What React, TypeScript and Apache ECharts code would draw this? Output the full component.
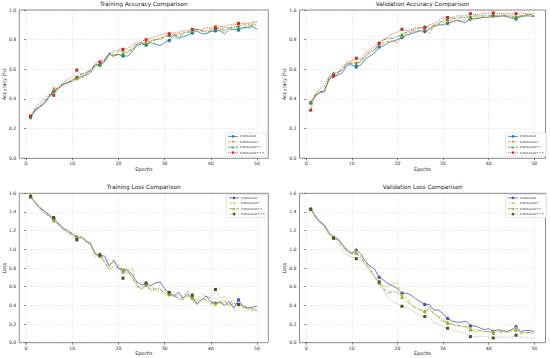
import React, { useEffect, useRef } from "react";
import * as echarts from "echarts";

const seriesNames = ["transunet", "transunet+", "transunet++", "transunet+++"];

const trainAccT = [0.28,0.32,0.345,0.37,0.41,0.45,0.47,0.50,0.51,0.52,0.545,0.55,0.56,0.58,0.63,0.63,0.65,0.70,0.69,0.70,0.69,0.69,0.72,0.76,0.77,0.765,0.78,0.77,0.76,0.78,0.795,0.83,0.81,0.82,0.83,0.845,0.86,0.84,0.84,0.855,0.86,0.86,0.84,0.87,0.87,0.865,0.88,0.88,0.89,0.87];
const trainAccP = [0.28,0.33,0.35,0.38,0.42,0.465,0.47,0.49,0.51,0.53,0.53,0.54,0.57,0.59,0.62,0.645,0.66,0.71,0.68,0.72,0.72,0.71,0.73,0.77,0.78,0.78,0.79,0.80,0.81,0.82,0.83,0.83,0.84,0.85,0.85,0.86,0.87,0.86,0.86,0.87,0.885,0.87,0.88,0.88,0.89,0.89,0.90,0.90,0.91,0.92];
const trainAccPP = [0.275,0.33,0.35,0.38,0.42,0.455,0.48,0.50,0.51,0.53,0.55,0.57,0.57,0.60,0.63,0.63,0.66,0.71,0.70,0.70,0.705,0.72,0.74,0.77,0.78,0.765,0.79,0.80,0.80,0.82,0.83,0.84,0.82,0.84,0.85,0.855,0.87,0.86,0.85,0.86,0.875,0.87,0.86,0.88,0.88,0.885,0.88,0.89,0.90,0.90];
const trainAccPPP = [0.285,0.34,0.37,0.40,0.43,0.425,0.47,0.51,0.53,0.55,0.595,0.56,0.58,0.60,0.64,0.65,0.67,0.70,0.72,0.73,0.735,0.74,0.76,0.78,0.79,0.80,0.81,0.82,0.83,0.84,0.84,0.85,0.85,0.86,0.86,0.87,0.87,0.87,0.88,0.88,0.88,0.89,0.89,0.90,0.90,0.91,0.91,0.91,0.92,0.92];

const valAccT = [0.375,0.42,0.44,0.45,0.53,0.555,0.56,0.58,0.63,0.63,0.615,0.63,0.67,0.69,0.71,0.75,0.76,0.78,0.79,0.80,0.815,0.83,0.84,0.85,0.86,0.855,0.87,0.89,0.90,0.90,0.91,0.92,0.93,0.92,0.915,0.94,0.94,0.945,0.95,0.95,0.96,0.955,0.96,0.955,0.945,0.94,0.955,0.96,0.96,0.955];
const valAccP = [0.375,0.42,0.45,0.46,0.53,0.565,0.57,0.60,0.64,0.65,0.64,0.65,0.69,0.71,0.73,0.77,0.78,0.79,0.79,0.78,0.82,0.84,0.85,0.86,0.86,0.875,0.84,0.89,0.90,0.92,0.92,0.93,0.93,0.93,0.93,0.94,0.945,0.95,0.95,0.95,0.96,0.955,0.96,0.96,0.95,0.945,0.96,0.965,0.97,0.965];
const valAccPP = [0.375,0.43,0.45,0.45,0.54,0.575,0.58,0.60,0.64,0.64,0.635,0.66,0.69,0.72,0.73,0.78,0.80,0.81,0.81,0.82,0.835,0.85,0.86,0.87,0.88,0.89,0.88,0.90,0.91,0.93,0.94,0.945,0.94,0.95,0.95,0.955,0.96,0.96,0.96,0.96,0.965,0.96,0.965,0.965,0.96,0.955,0.96,0.965,0.97,0.96];
const valAccPPP = [0.325,0.43,0.47,0.49,0.55,0.555,0.58,0.62,0.65,0.66,0.675,0.67,0.71,0.73,0.75,0.775,0.80,0.82,0.84,0.85,0.87,0.86,0.87,0.88,0.88,0.88,0.90,0.91,0.93,0.95,0.95,0.95,0.96,0.96,0.96,0.975,0.97,0.97,0.98,0.975,0.98,0.975,0.975,0.98,0.975,0.975,0.98,0.975,0.98,0.975];

const trainLossT = [1.56,1.50,1.45,1.41,1.37,1.33,1.28,1.23,1.20,1.17,1.12,1.13,1.08,1.06,0.95,0.93,0.93,0.82,0.88,0.80,0.78,0.78,0.73,0.65,0.62,0.63,0.61,0.64,0.65,0.58,0.53,0.50,0.54,0.48,0.52,0.48,0.41,0.46,0.50,0.44,0.42,0.43,0.40,0.44,0.37,0.46,0.38,0.37,0.38,0.39];
const trainLossP = [1.56,1.49,1.44,1.39,1.35,1.30,1.27,1.22,1.20,1.15,1.13,1.12,1.10,1.05,0.92,0.95,0.85,0.80,0.90,0.84,0.78,0.74,0.80,0.62,0.57,0.61,0.57,0.56,0.55,0.52,0.50,0.52,0.48,0.50,0.55,0.46,0.44,0.48,0.45,0.40,0.40,0.44,0.42,0.40,0.42,0.40,0.38,0.36,0.34,0.35];
const trainLossPP = [1.56,1.50,1.44,1.40,1.35,1.31,1.27,1.22,1.19,1.16,1.14,1.13,1.10,1.06,0.95,0.93,0.87,0.78,0.82,0.80,0.76,0.76,0.70,0.60,0.58,0.62,0.56,0.58,0.57,0.54,0.52,0.50,0.48,0.46,0.50,0.49,0.42,0.46,0.46,0.42,0.43,0.44,0.45,0.40,0.42,0.41,0.40,0.37,0.36,0.35];
const trainLossPPP = [1.57,1.50,1.43,1.38,1.36,1.34,1.26,1.21,1.18,1.14,1.10,1.14,1.09,1.04,0.96,0.94,0.89,0.84,0.86,0.82,0.69,0.79,0.70,0.63,0.58,0.64,0.60,0.57,0.58,0.56,0.54,0.49,0.51,0.47,0.56,0.51,0.45,0.52,0.50,0.48,0.57,0.48,0.50,0.42,0.45,0.41,0.40,0.38,0.37,0.34];

const valLossT = [1.43,1.36,1.30,1.26,1.18,1.13,1.11,1.05,0.99,0.96,0.99,0.95,0.87,0.82,0.79,0.70,0.67,0.63,0.61,0.58,0.53,0.53,0.51,0.47,0.44,0.41,0.41,0.35,0.35,0.31,0.26,0.23,0.22,0.22,0.23,0.18,0.18,0.16,0.14,0.15,0.12,0.14,0.13,0.12,0.14,0.17,0.12,0.13,0.13,0.12];
const valLossP = [1.43,1.35,1.29,1.25,1.17,1.12,1.10,1.04,0.98,0.95,0.97,0.92,0.86,0.80,0.72,0.65,0.60,0.60,0.63,0.65,0.50,0.49,0.42,0.38,0.36,0.32,0.40,0.30,0.27,0.22,0.21,0.20,0.18,0.17,0.18,0.15,0.14,0.13,0.12,0.12,0.11,0.13,0.12,0.11,0.12,0.15,0.11,0.10,0.10,0.10];
const valLossPP = [1.43,1.35,1.30,1.25,1.17,1.12,1.10,1.03,0.98,0.95,0.96,0.90,0.85,0.78,0.70,0.64,0.58,0.53,0.55,0.54,0.49,0.45,0.40,0.37,0.35,0.34,0.37,0.31,0.28,0.24,0.21,0.20,0.19,0.18,0.17,0.14,0.12,0.13,0.12,0.12,0.10,0.12,0.11,0.12,0.13,0.14,0.10,0.11,0.11,0.10];
const valLossPPP = [1.43,1.34,1.28,1.24,1.16,1.12,1.07,1.00,0.94,0.92,0.90,0.87,0.84,0.77,0.70,0.65,0.56,0.47,0.44,0.42,0.39,0.38,0.35,0.32,0.29,0.28,0.27,0.22,0.20,0.17,0.155,0.14,0.12,0.11,0.10,0.065,0.06,0.07,0.07,0.06,0.05,0.06,0.06,0.06,0.06,0.08,0.06,0.06,0.05,0.05];

const accColors = ["#1f77b4", "#ff7f0e", "#2ca02c", "#d62728"];
const lossLineColors = ["#4656c0", "#cfcf2a", "#8d9b30", "#b89098"];
const lossMarkColors = ["#4656c0", "#c8c820", "#8d9b30", "#4b5320"];
const symbols = ["circle", "triangle", "triangle", "rect"];
const symbolRot = [0, 180, 0, 0];
const lineTypes: any[] = ["solid", [3, 1.5], [4, 1.2, 1, 1.2], [1, 1.2]];

const FONT = "DejaVu Sans";

export default function App() {
  const ref = useRef<HTMLDivElement>(null);
  useEffect(() => {
    if (!ref.current) return;
    const chart = echarts.init(ref.current, undefined, { renderer: "svg" });

    const panels = [
      { key: "TA", title: "Training Accuracy Comparison", yName: "Accuracy (%)", fl: 19.3, fr: 268.3, ft: 10, fb: 158.3, ymax: 1.0, data: [trainAccT, trainAccP, trainAccPP, trainAccPPP], lc: accColors, mc: accColors, legTop: 133, legLeft: 225.5 },
      { key: "VA", title: "Validation Accuracy Comparison", yName: "Accuracy (%)", fl: 299.5, fr: 545.5, ft: 10, fb: 158.3, ymax: 1.0, data: [valAccT, valAccP, valAccPP, valAccPPP], lc: accColors, mc: accColors, legTop: 133, legLeft: 505.5 },
      { key: "TL", title: "Training Loss Comparison", yName: "Loss", fl: 19.3, fr: 268.3, ft: 193.3, fb: 342.7, ymax: 1.6, data: [trainLossT, trainLossP, trainLossPP, trainLossPPP], lc: lossLineColors, mc: lossMarkColors, legTop: 194.5, legLeft: 226.5 },
      { key: "VL", title: "Validation Loss Comparison", yName: "Loss", fl: 299.5, fr: 545.5, ft: 193.3, fb: 342.7, ymax: 1.6, data: [valLossT, valLossP, valLossPP, valLossPPP], lc: lossLineColors, mc: lossMarkColors, legTop: 194.5, legLeft: 505.5 },
    ];

    const grid: any[] = [];
    const xAxis: any[] = [];
    const yAxis: any[] = [];
    const series: any[] = [];
    const graphic: any[] = [];

    panels.forEach((p, gi) => {
      const ppe = (p.fr - p.fl) / 53.9;
      const gl = p.fl + 1.45 * ppe;
      const gw = 50 * ppe;
      grid.push({ left: gl, top: p.ft, width: gw, height: p.fb - p.ft, containLabel: false });
      xAxis.push({
        type: "value", gridIndex: gi, min: 0, max: 50, interval: 10,
        axisLine: { show: false },
        axisTick: { show: true, length: 2, lineStyle: { color: "#333", width: 0.6 } },
        axisLabel: { fontSize: 4.6, color: "#333", margin: 3, fontFamily: FONT },
        splitLine: { show: true, lineStyle: { color: "#dcdcdc", width: 0.5, type: [2, 1] } },
      });
      yAxis.push({
        type: "value", gridIndex: gi, min: 0, max: p.ymax, interval: 0.2,
        offset: 1.45 * ppe,
        axisLine: { show: false },
        axisTick: { show: true, length: 2, lineStyle: { color: "#333", width: 0.6 } },
        axisLabel: { fontSize: 4.6, color: "#333", margin: 3, fontFamily: FONT, formatter: (v: number) => v.toFixed(1) },
        splitLine: { show: true, lineStyle: { color: "#dcdcdc", width: 0.5, type: [2, 1] } },
      });
      p.data.forEach((vals, si) => {
        series.push({
          type: "line", name: p.key + "-" + si, xAxisIndex: gi, yAxisIndex: gi,
          symbol: symbols[si], symbolSize: si === 3 ? 3 : 3.5, symbolRotate: symbolRot[si],
          showSymbol: true,
          lineStyle: { color: p.lc[si], width: 0.8, type: lineTypes[si] },
          itemStyle: { color: p.mc[si] },
          data: vals.map((v, i) => ({ value: [i + 1, v], symbol: i % 5 === 0 ? symbols[si] : "none" })),
          z: 3 + si,
        });
      });

      // legend (matplotlib style), drawn as graphics
      const L = p.legLeft, T = p.legTop, W = 41, H = 23;
      graphic.push({
        type: "rect", shape: { x: L, y: T, width: W, height: H, r: 1.2 },
        style: { fill: "rgba(255,255,255,0.9)", stroke: "#d0d0d0", lineWidth: 0.5 }, z: 30, silent: true,
      });
      seriesNames.forEach((nm, si) => {
        const cy = T + 3.4 + si * 5.4;
        const x1 = L + 2.5, x2 = L + 12.5, cx = (x1 + x2) / 2;
        const lt = lineTypes[si];
        graphic.push({
          type: "line", shape: { x1, y1: cy, x2, y2: cy },
          style: { stroke: p.lc[si], lineWidth: 0.8, lineDash: lt === "solid" ? null : lt }, z: 31, silent: true,
        });
        const st = { fill: p.mc[si] };
        if (symbols[si] === "circle") {
          graphic.push({ type: "circle", shape: { cx, cy, r: 1.3 }, style: st, z: 32, silent: true });
        } else if (symbols[si] === "rect") {
          graphic.push({ type: "rect", shape: { x: cx - 1.2, y: cy - 1.2, width: 2.4, height: 2.4 }, style: st, z: 32, silent: true });
        } else {
          const down = symbolRot[si] === 180;
          const pts = down ? [[cx - 1.4, cy - 1.1], [cx + 1.4, cy - 1.1], [cx, cy + 1.3]] : [[cx - 1.4, cy + 1.1], [cx + 1.4, cy + 1.1], [cx, cy - 1.3]];
          graphic.push({ type: "polygon", shape: { points: pts }, style: st, z: 32, silent: true });
        }
        graphic.push({
          type: "text", x: L + 14.5, y: cy, z: 32, silent: true,
          style: { text: nm, fontSize: 3.3, fill: "#333", align: "left", verticalAlign: "middle", fontFamily: FONT },
        });
      });

      graphic.push({
        type: "rect", shape: { x: p.fl, y: p.ft, width: p.fr - p.fl, height: p.fb - p.ft },
        style: { fill: "none", stroke: "#444", lineWidth: 0.6 }, z: 10, silent: true,
      });
      const cx = (p.fl + p.fr) / 2;
      graphic.push({
        type: "text", x: cx, y: p.ft - 6, z: 10,
        style: { text: p.title, fontSize: 5.8, fill: "#222", align: "center", verticalAlign: "middle", fontFamily: FONT },
      });
      graphic.push({
        type: "text", x: cx, y: p.fb + 11, z: 10,
        style: { text: "Epochs", fontSize: 4.8, fill: "#222", align: "center", verticalAlign: "middle", fontFamily: FONT },
      });
      graphic.push({
        type: "text", x: p.fl - 15, y: (p.ft + p.fb) / 2, rotation: Math.PI / 2, z: 10,
        style: { text: p.yName, fontSize: 4.8, fill: "#222", align: "center", verticalAlign: "middle", fontFamily: FONT },
      });
    });

    chart.setOption({
      animation: false,
      backgroundColor: "#ffffff",
      textStyle: { fontFamily: FONT },
      grid, xAxis, yAxis, series, graphic,
    });
    return () => chart.dispose();
  }, []);
  return <div ref={ref} style={{ position: "fixed", left: 0, top: 0, width: 550, height: 358 }} />;
}
